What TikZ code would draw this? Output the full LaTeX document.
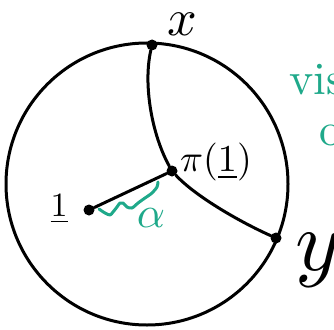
\documentclass[tikz,border=0pt]{standalone}
\usepackage{graphicx}
\usepackage{xcolor}
\usepackage{tikz}
\usetikzlibrary{positioning}
\definecolor{inkGreen}{HTML}{1FA98A}

\begin{document}
\begin{tikzpicture}[x=1pt, y=-1pt,
    pen/.style={line width=3pt, line cap=round, line join=round},
    dot/.style={circle, fill=black, inner sep=0pt, minimum size=11pt},
    lbl/.style={inner sep=0pt},
    gpen/.style={pen, inkGreen}
  ]
  \useasboundingbox (0,0) rectangle (334,329);
  % disc
  \draw[pen] (147,184) circle[radius=141];

  \node[dot] (x) at (152,45) {};
  \node[dot] (proj) at (172,171) {};
  \node[dot] (y) at (276,238) {};
  \node[dot] (one) at (89,210) {};

  % geodesic through x, pi(1), y
  \draw[pen] (x) .. controls (143,85) and (152,135) .. (proj);
  \draw[pen] (proj) .. controls (195,196) and (240,222) .. (y);
  \draw[pen] (one) -- (proj);

  % angle squiggle
  \draw[gpen] plot[smooth] coordinates {(99,209) (105,213) (110,215) (113,212) (117,207)
    (120,203) (123,203) (127,207) (132,208) (138,203) (145,198) (152,193) (157,187) (158,182)};

  \node[lbl] (xlbl) at (182,24) {\scalebox{5.2}{$x$}};
  \node[lbl, anchor=west] (projlbl) at (180,162) {\scalebox{3.8}{$\pi(\underline{1})$}};
  \node[lbl] (onelbl) at (59,209) {\scalebox{3.4}{$\underline{1}$}};
  \node[lbl] (ylbl) at (318,260) {\scalebox{8.6}{$y$}};
  \node[lbl, text=inkGreen] (alpha) at (151,218) {\scalebox{4.4}{$\alpha$}};

  % cut-off green note
  \node[lbl, text=inkGreen, anchor=west] (note) at (289,80) {\scalebox{4.6}{vis}};
  \node[lbl, text=inkGreen, anchor=west] (note2) at (319,135) {\scalebox{4.6}{o}};
\end{tikzpicture}
\end{document}
